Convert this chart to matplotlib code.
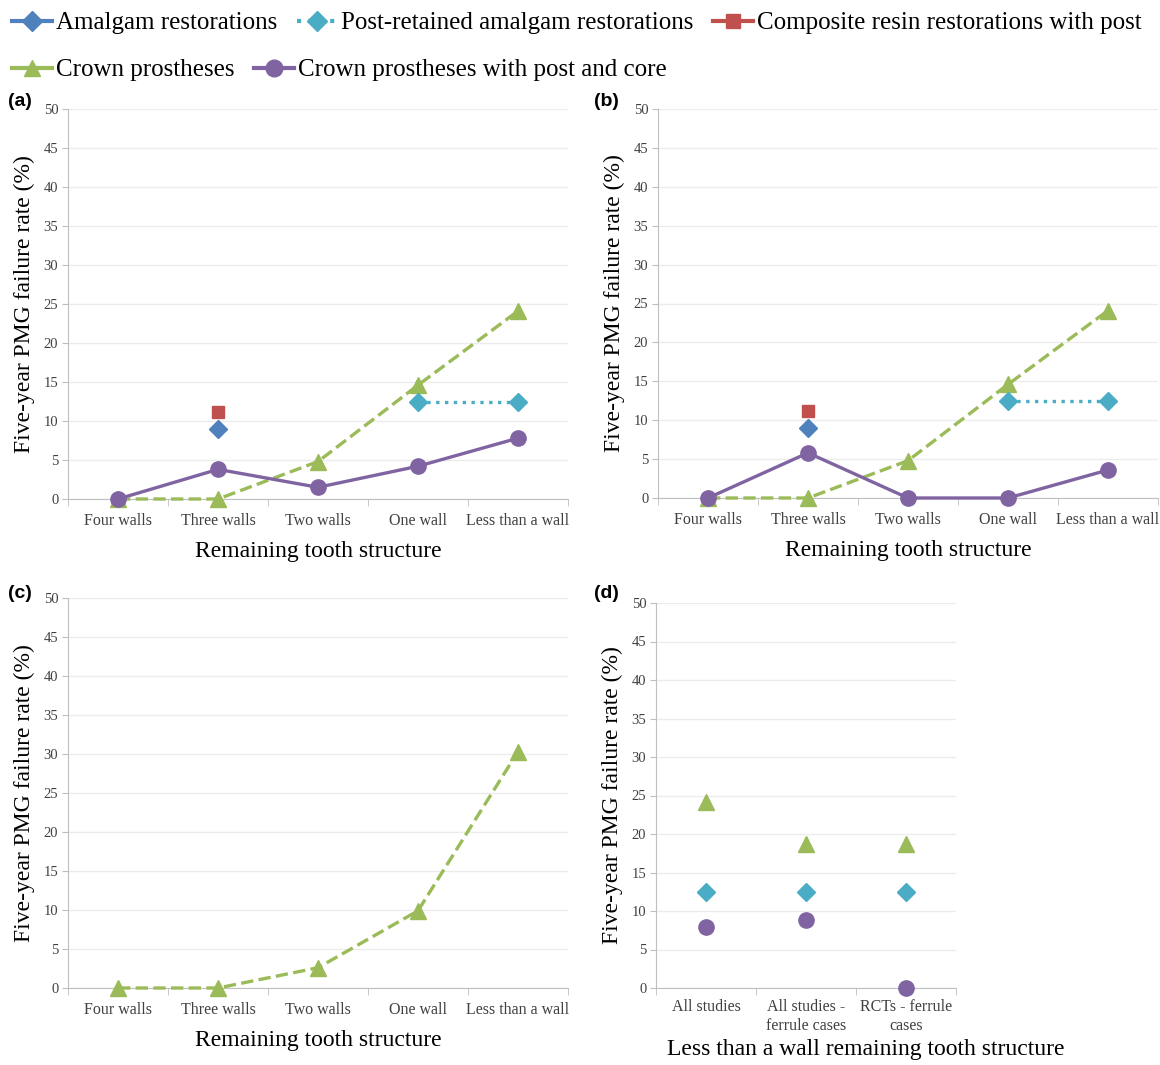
import numpy as np
import matplotlib.pyplot as plt
from matplotlib.lines import Line2D

# category labels
walls = ['Four walls', 'Three walls', 'Two walls', 'One wall', 'Less than a wall']
groups_d = ['All studies', 'All studies -\nferrule cases', 'RCTs - ferrule\ncases']

# panel (a)
a_amalgam = [np.nan, 9.0, np.nan, np.nan, np.nan]
a_composite = [np.nan, 11.2, np.nan, np.nan, np.nan]
a_postamal = [np.nan, np.nan, np.nan, 12.5, 12.5]
a_crown = [0, 0, 4.8, 14.6, 24.1]
a_postcore = [0, 3.8, 1.5, 4.2, 7.8]

# panel (b)
b_amalgam = [np.nan, 9.0, np.nan, np.nan, np.nan]
b_composite = [np.nan, 11.2, np.nan, np.nan, np.nan]
b_postamal = [np.nan, np.nan, np.nan, 12.5, 12.5]
b_crown = [0, 0, 4.8, 14.6, 24.1]
b_postcore = [0, 5.8, 0, 0, 3.6]

# panel (c)
c_crown = [0, 0, 2.6, 9.9, 30.3]

# panel (d)
d_crown = [24.1, 18.7, 18.7]
d_postamal = [12.5, 12.5, 12.5]
d_postcore = [7.9, 8.8, 0]

blue = '#4F81BD'
red = '#C0504D'
green = '#9BBB59'
purple = '#8064A2'
cyan = '#4BACC6'

serif = 'Liberation Serif'
W, H = 1160, 1065
fig = plt.figure(figsize=(W / 100, H / 100), dpi=100)


def setup(ax, labels, xlabel, xlab_x=0.5, ls=1.0, pad=10):
    n = len(labels)
    ax.set_xlim(-0.5, n - 0.5)
    ax.set_ylim(0, 50)
    ax.set_yticks(np.arange(0, 51, 5))
    ax.set_xticks(range(n))
    ax.set_xticks(np.arange(-0.5, n, 1), minor=True)
    ax.set_xticklabels(labels, fontfamily=serif, fontsize=11.5, color='#404040', linespacing=ls)
    ax.tick_params(axis='x', which='major', length=0, pad=pad)
    ax.tick_params(axis='x', which='minor', length=5, color='#bfbfbf')
    ax.tick_params(axis='y', length=4, color='#bfbfbf', labelsize=10.5, labelcolor='#404040', pad=3)
    for lab in ax.get_yticklabels():
        lab.set_fontfamily(serif)
    ax.grid(axis='y', color='#ececec', lw=1)
    ax.set_axisbelow(True)
    for s in ['top', 'right']:
        ax.spines[s].set_visible(False)
    for s in ['left', 'bottom']:
        ax.spines[s].set_color('#bfbfbf')
    ax.set_ylabel('Five-year PMG failure rate (%)', fontfamily=serif, fontsize=17, labelpad=6)
    ax.set_xlabel(xlabel, fontfamily=serif, fontsize=17, labelpad=9, x=xlab_x)


def box(x0, y0, x1, y1):
    return [x0 / W, 1 - y1 / H, (x1 - x0) / W, (y1 - y0) / H]


x = np.arange(5)

ax1 = fig.add_axes(box(68, 109, 568, 499))
ax2 = fig.add_axes(box(658, 109, 1158, 498))
ax3 = fig.add_axes(box(68, 598, 568, 988))
ax4 = fig.add_axes(box(656, 603, 956, 988))

for ax, am, co, pa, cr, pc in [(ax1, a_amalgam, a_composite, a_postamal, a_crown, a_postcore),
                               (ax2, b_amalgam, b_composite, b_postamal, b_crown, b_postcore)]:
    setup(ax, walls, 'Remaining tooth structure')
    ax.plot(x, cr, color=green, ls='--', lw=2.4, marker='^', ms=11, zorder=3, clip_on=False)
    ax.plot(x, pc, color=purple, lw=2.4, marker='o', ms=11, zorder=4, clip_on=False)
    ax.plot(x, pa, color=cyan, ls=':', lw=2.4, marker='D', ms=9, zorder=3)
    ax.plot(x, am, color=blue, marker='D', ms=9, ls='none', zorder=3)
    ax.plot(x, co, color=red, marker='s', ms=8, ls='none', zorder=3)

setup(ax3, walls, 'Remaining tooth structure')
ax3.plot(x, c_crown, color=green, ls='--', lw=2.4, marker='^', ms=11, zorder=3, clip_on=False)

setup(ax4, groups_d, 'Less than a wall remaining tooth structure', xlab_x=0.7, ls=1.2, pad=8)
ax4.xaxis.labelpad = 4
xd = np.arange(3)
ax4.plot(xd, d_crown, color=green, ls='none', marker='^', ms=11, zorder=3)
ax4.plot(xd, d_postamal, color=cyan, ls='none', marker='D', ms=9, zorder=3)
ax4.plot(xd, d_postcore, color=purple, ls='none', marker='o', ms=11, zorder=3, clip_on=False)

for lab, px, py in [('(a)', 8, 102), ('(b)', 594, 102), ('(c)', 8, 593), ('(d)', 594, 593)]:
    fig.text(px / W, 1 - py / H, lab, fontsize=14, fontweight='bold',
             fontfamily='Liberation Sans', va='center', ha='left')

# legend
h_am = Line2D([], [], color=blue, lw=3, marker='D', ms=10)
h_pa = Line2D([], [], color=cyan, lw=3, ls=':', marker='D', ms=10)
h_co = Line2D([], [], color=red, lw=3, marker='s', ms=10)
h_cr = Line2D([], [], color=green, lw=3, marker='^', ms=12)
h_pc = Line2D([], [], color=purple, lw=3, marker='o', ms=12)
legkw = dict(frameon=False, prop={'family': serif, 'size': 18}, handlelength=1.6,
             handletextpad=0.15, borderaxespad=0, borderpad=0)
fig.legend([h_am, h_pa, h_co], ['Amalgam restorations', 'Post-retained amalgam restorations',
                                'Composite resin restorations with post'],
           ncol=3, loc='center left', bbox_to_anchor=(12 / W, 1 - 23 / H),
           columnspacing=0.8, **legkw)
fig.legend([h_cr, h_pc], ['Crown prostheses', 'Crown prostheses with post and core'],
           ncol=2, loc='center left', bbox_to_anchor=(12 / W, 1 - 70 / H),
           columnspacing=0.8, **legkw)

fig.savefig('out.png', dpi=100)
